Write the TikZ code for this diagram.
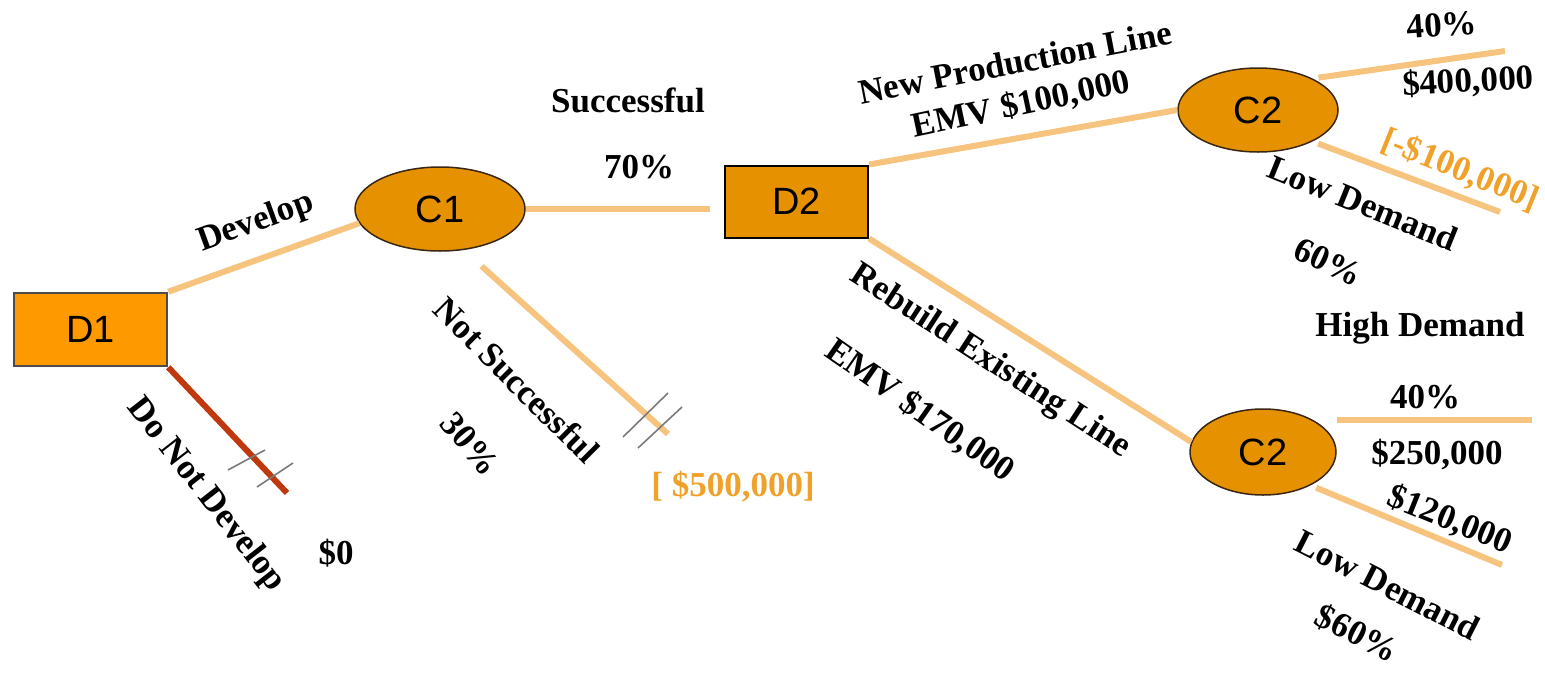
\documentclass[tikz,border=0pt]{standalone}
\usepackage{fontspec}
\setmainfont{Liberation Serif}
\newfontfamily\boxfont{Liberation Sans}
\usetikzlibrary{shapes.geometric}
\definecolor{dorange}{HTML}{FF9900}
\definecolor{morange}{HTML}{E69100}
\definecolor{branchc}{HTML}{F6C47E}
\definecolor{rejectc}{HTML}{C0390E}
\definecolor{payc}{HTML}{EFA12A}
\definecolor{hashc}{HTML}{7A7A7A}
\begin{document}
\begin{tikzpicture}[x=1pt,y=-1pt,
  lbl/.style={font=\fontsize{35}{38}\selectfont\bfseries, inner sep=0pt, text=black},
  paylbl/.style={lbl, text=payc},
  decbox/.style={rectangle, minimum width=153pt, minimum height=73pt, inner sep=0pt,
    font=\boxfont\fontsize{38}{40}\selectfont},
  chance/.style={ellipse, inner sep=0pt, fill=morange, draw=black!70!brown, line width=1.5pt,
    font=\boxfont\fontsize{38}{40}\selectfont},
  branch/.style={draw=branchc, line width=6pt},
  reject/.style={draw=rejectc, line width=6pt},
  hash/.style={draw=hashc, line width=1.6pt}]
\useasboundingbox (0,0) rectangle (1545,675);

% decision and chance nodes
\node[decbox, fill=dorange, draw=black!70, line width=2.5pt] (D1) at (90.5,329.5) {D1};
\node[chance, minimum width=170pt, minimum height=84pt] (C1) at (440,209) {C1};
\node[decbox, minimum width=143pt, minimum height=72pt, fill=morange, draw=black, line width=2pt] (D2) at (796.5,201.5) {D2};
\node[chance, minimum width=160pt, minimum height=84pt] (C2a) at (1258,110) {C2};
\node[chance, minimum width=146pt, minimum height=86pt] (C2b) at (1263,452) {C2};

% free ends of branches
\coordinate (dnd) at (287,493);
\coordinate (nse) at (668,434);
\coordinate (hiA) at (1505,51);
\coordinate (loA) at (1500,212);
\coordinate (hiB) at (1532,420);
\coordinate (loB) at (1502,565);

% branches
\draw[branch] (D1.north east) -- (C1.190);
\draw[reject] (D1.south east) -- (dnd);
\draw[branch, shorten >=14pt] (C1.east) -- (C1.east -| D2.west);
\draw[branch, shorten <=24pt] (C1.300) -- (nse);
\draw[branch] (D2.north east) -- (C2a.180);
\draw[branch] (D2.south east) -- (C2b.172);
\draw[branch, shorten <=6pt] (C2a.30) -- (hiA);
\draw[branch, shorten <=6pt] (C2a.-30) -- (loA);
\draw[branch] (C2b.east |- hiB) -- (hiB);
\draw[branch, shorten <=6pt] (C2b.-35) -- (loB);

% pruned-branch marks
\draw[hash] (228,470) -- (265,450);
\draw[hash] (257,487) -- (293,463);
\draw[hash] (623,437) -- (668,393);
\draw[hash] (638,448) -- (682,407);

% labels
\node[lbl, rotate=20] (tDev) at (256,223) {Develop};
\node[lbl, rotate=-52] (tDnd) at (206,495) {Do Not Develop};
\node[lbl] (tZero) at (336,553) {\$0};
\node[lbl] (tSuc) at (628,100) {Successful};
\node[lbl] (tSp) at (639,167) {70\%};
\node[lbl, rotate=-45] (tNs) at (517,380) {Not Successful};
\node[lbl, rotate=-50] (tNp) at (470,444) {30\%};
\node[paylbl] (tNv) at (733,487) {[ \$500,000]};

\node[lbl, rotate=11] (tNpl) at (1015,62) {New Production Line};
\node[lbl, rotate=12] (tNemv) at (1021,105) {EMV \$100,000};
\node[lbl, rotate=4] (tHpA) at (1442,25) {40\%};
\node[lbl, rotate=3] (tHvA) at (1468,82) {\$400,000};
\node[paylbl, rotate=-22] (tLvA) at (1460,170) {[-\$100,000]};
\node[lbl, rotate=-22] (tLdA) at (1363,203) {Low Demand};
\node[lbl, rotate=-25] (tLpA) at (1328,262) {60\%};

\node[lbl, rotate=-33] (tRel) at (990,362) {Rebuild Existing Line};
\node[lbl, rotate=-35] (tRemv) at (920,411) {EMV \$170,000};
\node[lbl] (tHdB) at (1420,328) {High Demand};
\node[lbl] (tHpB) at (1425,397) {40\%};
\node[lbl] (tHvB) at (1437,455) {\$250,000};
\node[lbl, rotate=-22] (tLvB) at (1450,520) {\$120,000};
\node[lbl, rotate=-27] (tLdB) at (1388,585) {Low Demand};
\node[lbl, rotate=-27] (tLpB) at (1357,633) {\$60\%};
\end{tikzpicture}
\end{document}
